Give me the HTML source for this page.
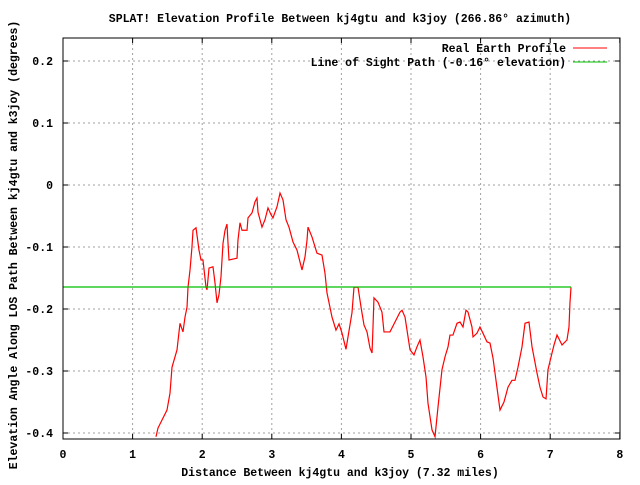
<!DOCTYPE html>
<html><head><meta charset="utf-8"><style>
body{margin:0;background:#fff}
svg text{font-family:"Liberation Mono",monospace;font-weight:bold;font-size:11.5px;fill:#000}
</style></head><body>
<svg id="chart" width="640" height="480" xmlns="http://www.w3.org/2000/svg">
<text x="340" y="22" text-anchor="middle">SPLAT! Elevation Profile Between kj4gtu and k3joy (266.86° azimuth)</text>
<text x="340" y="476" text-anchor="middle">Distance Between kj4gtu and k3joy (7.32 miles)</text>
<text transform="translate(17,245) rotate(-90)" text-anchor="middle">Elevation Angle Along LOS Path Between kj4gtu and k3joy (degrees)</text>
<g id="grid"></g><g id="ticks"></g>
<defs><clipPath id="pc"><rect x="63" y="38" width="557" height="401"/></clipPath></defs>
<g id="series" clip-path="url(#pc)"></g>
<rect x="63" y="38" width="557" height="401" fill="none" stroke="#000" stroke-width="1"/>
<g>
<text x="566" y="52" text-anchor="end">Real Earth Profile</text>
<line x1="573" y1="48" x2="607" y2="48" stroke="#f00"/>
<text x="566" y="66" text-anchor="end">Line of Sight Path (-0.16° elevation)</text>
<line x1="573" y1="62" x2="607" y2="62" stroke="#00c000"/>
</g>
</svg>
<script>
const xTicks=[0,1,2,3,4,5,6,7,8];
const yTicks=[0.2,0.1,0,-0.1,-0.2,-0.3,-0.4];
const yTickLabels=["0.2","0.1","0","-0.1","-0.2","-0.3","-0.4"];
const dist=[1.336,1.365,1.494,1.537,1.566,1.638,1.681,1.724,1.753,1.782,1.796,1.825,1.853,1.868,1.911,1.954,1.983,2.011,2.055,2.069,2.098,2.155,2.184,2.213,2.241,2.270,2.299,2.328,2.356,2.371,2.385,2.500,2.514,2.543,2.572,2.644,2.658,2.716,2.759,2.787,2.802,2.859,2.902,2.945,2.989,3.017,3.075,3.118,3.161,3.204,3.247,3.305,3.362,3.434,3.477,3.506,3.520,3.578,3.649,3.721,3.764,3.793,3.865,3.922,3.966,4.009,4.066,4.095,4.152,4.181,4.239,4.282,4.325,4.368,4.411,4.440,4.454,4.468,4.526,4.583,4.612,4.698,4.770,4.842,4.871,4.914,4.986,5.043,5.086,5.129,5.172,5.216,5.244,5.302,5.345,5.388,5.445,5.489,5.532,5.560,5.603,5.661,5.704,5.747,5.790,5.819,5.876,5.891,5.948,5.991,6.034,6.092,6.135,6.178,6.221,6.279,6.336,6.394,6.451,6.494,6.537,6.595,6.638,6.695,6.739,6.810,6.853,6.897,6.940,6.968,7.026,7.055,7.098,7.170,7.241,7.270,7.284,7.299];
const elev=[-0.406,-0.392,-0.363,-0.336,-0.294,-0.266,-0.223,-0.237,-0.213,-0.197,-0.165,-0.137,-0.100,-0.073,-0.069,-0.105,-0.121,-0.121,-0.165,-0.169,-0.134,-0.132,-0.158,-0.190,-0.177,-0.148,-0.094,-0.073,-0.063,-0.094,-0.121,-0.118,-0.089,-0.061,-0.073,-0.073,-0.053,-0.045,-0.027,-0.021,-0.044,-0.068,-0.056,-0.037,-0.048,-0.053,-0.035,-0.013,-0.024,-0.056,-0.068,-0.092,-0.105,-0.137,-0.116,-0.089,-0.068,-0.084,-0.110,-0.113,-0.142,-0.174,-0.213,-0.234,-0.224,-0.239,-0.265,-0.245,-0.206,-0.165,-0.165,-0.197,-0.226,-0.237,-0.263,-0.271,-0.229,-0.182,-0.189,-0.205,-0.237,-0.237,-0.221,-0.205,-0.202,-0.213,-0.266,-0.274,-0.261,-0.250,-0.277,-0.310,-0.352,-0.395,-0.406,-0.358,-0.298,-0.277,-0.261,-0.242,-0.242,-0.223,-0.221,-0.229,-0.202,-0.205,-0.229,-0.245,-0.239,-0.229,-0.239,-0.253,-0.255,-0.279,-0.315,-0.363,-0.350,-0.326,-0.315,-0.315,-0.294,-0.261,-0.223,-0.221,-0.261,-0.303,-0.326,-0.342,-0.345,-0.298,-0.271,-0.258,-0.242,-0.258,-0.250,-0.229,-0.190,-0.165];
const losDist=[0,7.299];
const losElev=[-0.1645,-0.1645];
const NS="http://www.w3.org/2000/svg";
const X=d=>63+d*69.6;
const Y=v=>185-v*620;
function mk(t,a,p){const e=document.createElementNS(NS,t);for(const k in a)e.setAttribute(k,a[k]);p.appendChild(e);return e;}
const grid=document.getElementById('grid'),ticks=document.getElementById('ticks'),series=document.getElementById('series');
xTicks.forEach(t=>{
 const x=X(t);
 if(t>0&&t<8){const g=mk('line',{x1:x,y1:38,x2:x,y2:439,stroke:'#a0a0a0','stroke-dasharray':'2,3'},grid);
 
 }
 const tk=mk('path',{d:`M${x},439v-5M${x},38v5`,stroke:'#000'},ticks);
 
 
 const l=mk('text',{x:x,y:458,'text-anchor':'middle'},ticks);l.textContent=t;
 
 
});
yTicks.forEach((t,i)=>{
 const y=Y(t);
 const g=mk('line',{x1:63,y1:y,x2:620,y2:y,stroke:'#a0a0a0','stroke-dasharray':'2,3'},grid);
 
 
 const tk=mk('path',{d:`M63,${y}h5M620,${y}h-5`,stroke:'#000'},ticks);
 
 
 const l=mk('text',{x:53,y:y+4,'text-anchor':'end'},ticks);l.textContent=yTickLabels[i];
 
 
});
const terr=mk('polyline',{points:dist.map((d,i)=>X(d)+','+Y(elev[i])).join(' '),fill:'none',stroke:'#f00','stroke-width':1.2},series);


const los=mk('polyline',{points:losDist.map((d,i)=>X(d)+','+Y(losElev[i])).join(' '),fill:'none',stroke:'#00c000','stroke-width':1.2},series);


</script>
</body></html>
